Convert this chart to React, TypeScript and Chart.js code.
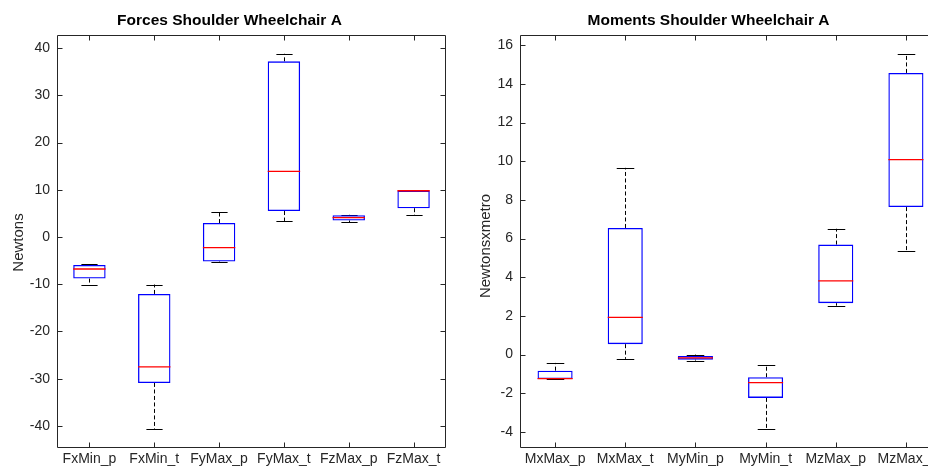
import { useEffect, useRef } from "react";
import { Chart, registerables } from "chart.js";

Chart.register(...registerables);

// ---------- Data: Forces ----------
const forceCategories = ["FxMin_p", "FxMin_t", "FyMax_p", "FyMax_t", "FzMax_p", "FzMax_t"];
const forceLowerWhisker = [-10.1, -40.7, -5.35, 3.4, 3.1, 4.65];
const forceQ1 = [-8.8, -30.9, -5.2, 5.5, 3.5, 6.1];
const forceMedian = [-6.77, -27.5, -2.25, 13.9, 4.1, 9.8];
const forceQ3 = [-5.9, -12.05, 2.96, 37.2, 4.6, 9.8];
const forceUpperWhisker = [-5.8, -10.06, 5.2, 38.8, 4.7, 9.85];
const forceTicks = [-40, -30, -20, -10, 0, 10, 20, 30, 40];

// ---------- Data: Moments ----------
const momentCategories = ["MxMax_p", "MxMax_t", "MyMin_p", "MyMin_t", "MzMax_p", "MzMax_t"];
const momentLowerWhisker = [-1.26, -0.22, -0.31, -3.86, 2.53, 5.34];
const momentQ1 = [-1.26, 0.54, -0.26, -2.24, 2.66, 7.63];
const momentMedian = [-1.24, 1.93, -0.17, -1.45, 3.81, 10.08];
const momentQ3 = [-0.83, 6.55, -0.07, -1.17, 5.69, 14.57];
const momentUpperWhisker = [-0.43, 9.66, 0.0, -0.53, 6.51, 15.56];
const momentTicks = [-4, -2, 0, 2, 4, 6, 8, 10, 12, 14, 16];

const FONT = "'Liberation Sans', Arial, Helvetica, sans-serif";
const AXIS_COLOR = "#262626";

type Spec = {
  categories: string[];
  lower: number[];
  q1: number[];
  median: number[];
  q3: number[];
  upper: number[];
  ticks: number[];
  title: string;
  yTitle: string;
  yAxisWidth: number;
  padRight: number;
  yTitleX: number;
  yTitleDy: number;
  canvasWidth: number;
  showRightFrame: boolean;
};

function makePlugin(spec: Spec) {
  return {
    id: "boxExtras",
    beforeDatasetsDraw(chart: any) {
      const { ctx, scales } = chart;
      const y = scales.y;
      const meta = chart.getDatasetMeta(0);
      ctx.save();
      ctx.strokeStyle = "#000000";
      ctx.lineWidth = 1;
      meta.data.forEach((bar: any, i: number) => {
        const cx = Math.round(bar.x) + 0.5;
        const capHalf = bar.width / 4;
        const yQ1 = y.getPixelForValue(spec.q1[i]);
        const yQ3 = y.getPixelForValue(spec.q3[i]);
        const yLo = y.getPixelForValue(spec.lower[i]);
        const yHi = y.getPixelForValue(spec.upper[i]);
        // dashed whiskers
        ctx.setLineDash([4, 2.5]);
        ctx.beginPath();
        ctx.moveTo(cx, yQ3);
        ctx.lineTo(cx, yHi);
        ctx.moveTo(cx, yQ1);
        ctx.lineTo(cx, yLo);
        ctx.stroke();
        // caps
        ctx.setLineDash([]);
        ctx.beginPath();
        ctx.moveTo(cx - capHalf, Math.round(yHi) + 0.5);
        ctx.lineTo(cx + capHalf, Math.round(yHi) + 0.5);
        ctx.moveTo(cx - capHalf, Math.round(yLo) + 0.5);
        ctx.lineTo(cx + capHalf, Math.round(yLo) + 0.5);
        ctx.stroke();
      });
      ctx.restore();
    },
    afterDatasetsDraw(chart: any) {
      const { ctx, scales } = chart;
      const y = scales.y;
      const meta = chart.getDatasetMeta(0);
      ctx.save();
      ctx.strokeStyle = "#ff0000";
      ctx.lineWidth = 1.3;
      meta.data.forEach((bar: any, i: number) => {
        const half = bar.width / 2;
        const ym = y.getPixelForValue(spec.median[i]);
        ctx.beginPath();
        ctx.moveTo(bar.x - half, ym);
        ctx.lineTo(bar.x + half, ym);
        ctx.stroke();
      });
      ctx.restore();
    },
    afterDraw(chart: any) {
      const { ctx, chartArea, scales } = chart;
      const { left, right, top, bottom } = chartArea;
      const L = Math.round(left) + 0.5;
      const R = Math.round(right) - 0.5;
      const T = Math.round(top) + 0.5;
      const B = Math.round(bottom) - 0.5;
      ctx.save();
      ctx.strokeStyle = AXIS_COLOR;
      ctx.lineWidth = 1;
      ctx.beginPath();
      ctx.moveTo(R, T);
      ctx.lineTo(L, T);
      ctx.lineTo(L, B);
      ctx.lineTo(R, B);
      if (spec.showRightFrame) ctx.lineTo(R, T);
      ctx.stroke();
      const tl = 5;
      ctx.beginPath();
      spec.categories.forEach((_, i) => {
        const px = Math.round(scales.x.getPixelForValue(i)) + 0.5;
        ctx.moveTo(px, B);
        ctx.lineTo(px, B - tl);
        ctx.moveTo(px, T);
        ctx.lineTo(px, T + tl);
      });
      spec.ticks.forEach((v) => {
        const py = Math.round(scales.y.getPixelForValue(v)) + 0.5;
        ctx.moveTo(L, py);
        ctx.lineTo(L + tl, py);
        ctx.moveTo(R, py);
        ctx.lineTo(R - tl, py);
      });
      ctx.stroke();

      // title
      ctx.fillStyle = "#000000";
      ctx.font = `bold 15.5px ${FONT}`;
      ctx.textAlign = "center";
      ctx.textBaseline = "middle";
      ctx.fillText(spec.title, (left + right) / 2 - 22, 21);

      // y axis title
      ctx.fillStyle = AXIS_COLOR;
      ctx.font = `15px ${FONT}`;
      ctx.translate(spec.yTitleX, (top + bottom) / 2 + spec.yTitleDy);
      ctx.rotate(-Math.PI / 2);
      ctx.fillText(spec.yTitle, 0, 0);
      ctx.restore();
    },
  };
}

function BoxChart({ spec, left }: { spec: Spec; left: number }) {
  const ref = useRef<HTMLCanvasElement | null>(null);
  useEffect(() => {
    if (!ref.current) return;
    const lo = Math.min(...spec.lower);
    const hi = Math.max(...spec.upper);
    const pad = (hi - lo) * 0.05;
    const chart = new Chart(ref.current, {
      type: "bar",
      data: {
        labels: spec.categories,
        datasets: [
          {
            data: spec.q1.map((v, i) => [v, spec.q3[i]]),
            backgroundColor: "rgba(0,0,0,0)",
            borderColor: "#0000ff",
            borderWidth: 1.3,
            borderSkipped: false,
            barPercentage: 0.5,
            categoryPercentage: 1.0,
          } as any,
        ],
      },
      options: {
        responsive: false,
        animation: false,
        devicePixelRatio: 1,
        layout: { padding: { top: 35, right: spec.padRight, left: 0, bottom: 0 } },
        plugins: {
          legend: { display: false },
          title: { display: false },
          tooltip: { enabled: false },
        },
        scales: {
          x: {
            offset: true,
            grid: { display: false, drawTicks: false },
            border: { display: false },
            ticks: {
              color: AXIS_COLOR,
              padding: 3,
              maxRotation: 0,
              autoSkip: false,
              font: { family: FONT, size: 14 },
            },
            afterFit: (s: any) => {
              s.height = 20;
            },
          },
          y: {
            min: lo - pad,
            max: hi + pad,
            grid: { display: false, drawTicks: false },
            border: { display: false },
            ticks: {
              color: AXIS_COLOR,
              padding: 7,
              autoSkip: false,
              font: { family: FONT, size: 14 },
            },
            afterBuildTicks: (s: any) => {
              s.ticks = spec.ticks.map((v) => ({ value: v }));
            },
            afterFit: (s: any) => {
              s.width = spec.yAxisWidth;
            },
          },
        },
      },
      plugins: [makePlugin(spec)],
    });
    return () => chart.destroy();
  }, [spec]);
  return (
    <canvas
      ref={ref}
      width={spec.canvasWidth}
      height={468}
      style={{ position: "absolute", left, top: 0, width: spec.canvasWidth, height: 468 }}
    />
  );
}

const forceSpec: Spec = {
  categories: forceCategories,
  lower: forceLowerWhisker,
  q1: forceQ1,
  median: forceMedian,
  q3: forceQ3,
  upper: forceUpperWhisker,
  ticks: forceTicks,
  title: "Forces Shoulder Wheelchair A",
  yTitle: "Newtons",
  yAxisWidth: 57,
  padRight: 18,
  yTitleX: 18.5,
  yTitleDy: 1,
  canvasWidth: 464,
  showRightFrame: true,
};

const momentSpec: Spec = {
  categories: momentCategories,
  lower: momentLowerWhisker,
  q1: momentQ1,
  median: momentMedian,
  q3: momentQ3,
  upper: momentUpperWhisker,
  ticks: momentTicks,
  title: "Moments Shoulder Wheelchair A",
  yTitle: "Newtonsxmetro",
  yAxisWidth: 56,
  padRight: 3,
  yTitleX: 21.5,
  yTitleDy: 4.5,
  canvasWidth: 480,
  showRightFrame: true,
};

export default function App() {
  return (
    <div
      style={{
        position: "fixed",
        left: 0,
        top: 0,
        width: 928,
        height: 468,
        overflow: "hidden",
        background: "#ffffff",
      }}
    >
      <BoxChart spec={forceSpec} left={0} />
      <BoxChart spec={momentSpec} left={464} />
    </div>
  );
}
